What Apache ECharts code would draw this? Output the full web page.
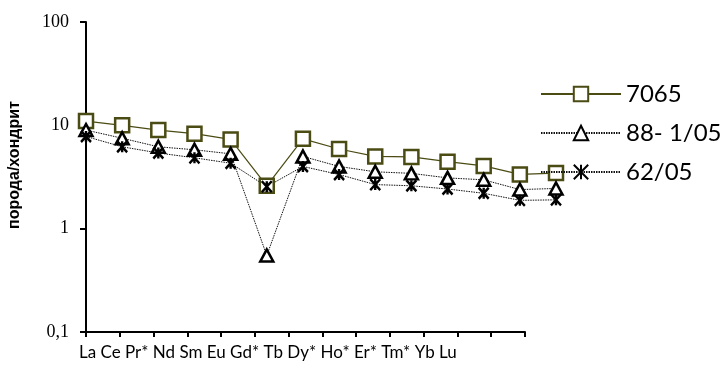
<!DOCTYPE html>
<html>
<head>
<meta charset="utf-8">
<script src="https://cdn.jsdelivr.net/npm/echarts@6/dist/echarts.min.js"></script>
<style>
  html, body { margin: 0; padding: 0; background: #fff; }
  #chart { width: 724px; height: 374px; }
</style>
</head>
<body>
<div id="chart"></div>
<script>
// REE spectra normalised to chondrite
const categories = ['La', 'Ce', 'Pr*', 'Nd', 'Sm', 'Eu', 'Gd*', 'Tb', 'Dy*', 'Ho*', 'Er*', 'Tm*', 'Yb', 'Lu'];
const seriesNames = ['7065', '88- 1/05', '62/05'];
const values7065 = [11.0, 10.0, 9.0, 8.3, 7.3, 2.6, 7.4, 5.9, 5.0, 4.95, 4.45, 4.05, 3.35, 3.45];
const values88 = [9.0, 7.5, 6.2, 5.8, 5.3, 0.55, 5.0, 4.0, 3.55, 3.43, 3.1, 2.97, 2.39, 2.45];
const values62 = [7.8, 6.2, 5.4, 4.85, 4.3, 2.55, 4.0, 3.34, 2.67, 2.6, 2.42, 2.2, 1.88, 1.9];
const yTickLabels = ['0,1', '1', '10', '100'];
const yTitle = 'порода/хондрит';

const OLIVE = '#4b4b14';
const STAR = 'path://M0,0L10,10M10,0L0,10M5,0L5,10';

const chart = echarts.init(document.getElementById('chart'), null, { renderer: 'canvas' });

const option = {
  backgroundColor: '#fff',
  animation: false,
  grid: [
    // plotting area for the series
    { left: 86, right: 168, top: 22, bottom: 42, containLabel: false },
    // frame carrying the drawn category axis
    { left: 86, right: 199, top: 22, bottom: 42, containLabel: false }
  ],
  xAxis: [
    {
      type: 'category', gridIndex: 0, data: categories, boundaryGap: false,
      axisLine: { show: false }, axisTick: { show: false }, axisLabel: { show: false },
      splitLine: { show: false }
    },
    {
      type: 'category', gridIndex: 1, data: categories, boundaryGap: false,
      axisLine: { show: true, lineStyle: { color: '#000', width: 2 } },
      axisTick: { show: true, alignWithLabel: true, length: 5, lineStyle: { color: '#000', width: 2 } },
      axisLabel: { show: false },
      splitLine: { show: false }
    }
  ],
  yAxis: [
    {
      type: 'log', gridIndex: 0, logBase: 10, min: 0.1, max: 100, splitNumber: 3,
      axisLine: { show: true, lineStyle: { color: '#000', width: 2 } },
      axisTick: { show: true, length: 6, lineStyle: { color: '#000', width: 2 } },
      axisLabel: {
        margin: 17, color: '#000', fontFamily: 'Liberation Serif', fontSize: 18,
        formatter: v => yTickLabels[Math.round(Math.log10(v)) + 1]
      },
      splitLine: { show: false }
    },
    {
      type: 'log', gridIndex: 1, logBase: 10, min: 0.1, max: 100, show: false
    }
  ],
  legend: {
    orient: 'vertical', left: 535, top: 77,
    itemWidth: 80, itemHeight: 18, itemGap: 15,
    textStyle: { fontFamily: 'Lato', fontSize: 24, color: '#000', lineHeight: 24 },
    data: seriesNames
  },
  graphic: [
    {
      type: 'text', left: 79, top: 344,
      style: { text: categories.join(' '), font: '17px Lato', fill: '#000' }
    },
    {
      type: 'text', x: 15, y: 165, rotation: Math.PI / 2,
      style: { text: yTitle, font: 'bold 16px "Liberation Sans"', fill: '#000', align: 'center', verticalAlign: 'middle' }
    }
  ],
  series: [
    {
      name: seriesNames[0], type: 'line', xAxisIndex: 0, yAxisIndex: 0, data: values7065,
      symbol: 'rect', symbolSize: 14,
      lineStyle: { color: OLIVE, width: 1.2 },
      itemStyle: { color: '#fff', borderColor: OLIVE, borderWidth: 2.5 }
    },
    {
      name: seriesNames[1], type: 'line', xAxisIndex: 0, yAxisIndex: 0, data: values88,
      symbol: 'triangle', symbolSize: [13, 12],
      lineStyle: { color: '#111', width: 1, type: [1.5, 1] },
      itemStyle: { color: '#fff', borderColor: '#000', borderWidth: 2.5 }
    },
    {
      name: seriesNames[2], type: 'line', xAxisIndex: 0, yAxisIndex: 0, data: values62,
      symbol: STAR, symbolSize: [10, 11],
      lineStyle: { color: '#111', width: 1, type: [1.5, 1] },
      itemStyle: { color: 'rgba(0,0,0,0)', borderColor: '#000', borderWidth: 2.5 }
    }
  ]
};

chart.setOption(option);
</script>
</body>
</html>
